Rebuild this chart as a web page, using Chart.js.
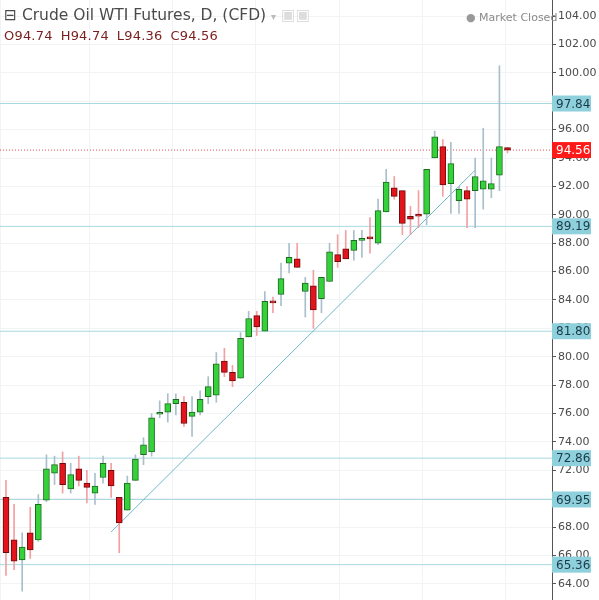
<!DOCTYPE html>
<html>
<head>
<meta charset="utf-8">
<script src="https://cdn.jsdelivr.net/npm/chart.js@4"></script>
<style>
  body { margin: 0; background: #fff; }
  #wrap { position: relative; width: 599px; height: 600px; }
  #header { position: absolute; left: 4px; top: 6px; font-family: "DejaVu Sans", sans-serif; pointer-events: none; }
  #title { font-size: 15.5px; color: #4a4a4a; }
  #ohlc { font-size: 13px; color: #7a1e1e; margin-top: 4px; letter-spacing: 0.2px; }
  #ohlc span { margin-right: 8px; }
  #status { position: absolute; left: 466px; top: 11px; font-family: "DejaVu Sans", sans-serif; font-size: 11px; color: #8a8a8a; }
</style>
</head>
<body>
<div id="wrap">
  <canvas id="myChart" width="599" height="600"></canvas>
  <div id="header">
    <div id="title">⊟ Crude Oil WTI Futures, D, (CFD) <span style="color:#bbb;font-size:10px">▾</span> <span style="color:#ddd">▣▣</span></div>
    <div id="ohlc"><span>O94.74</span><span>H94.74</span><span>L94.36</span><span>C94.56</span></div>
  </div>
  <div id="status"><span style="color:#999">●</span> Market Closed</div>
</div>
<script>
const opens = [70.1, 67.1, 65.7, 67.6, 67.1, 69.9, 71.8, 72.5, 70.7, 72.1, 71.1, 70.4, 71.5, 72.0, 70.1, 69.2, 71.3, 73.1, 73.3, 75.95,
  76.1, 76.7, 76.8, 75.8, 76.1, 77.2, 77.3, 79.7, 78.9, 78.5, 81.4, 82.9, 81.8, 83.9, 84.4, 86.6, 86.9, 84.6, 85.0, 84.1,
  85.3, 87.2, 87.6, 87.5, 88.2, 88.4, 88.0, 90.2, 91.9, 91.7, 89.9, 90.05, 90.05, 94.0, 94.8, 92.2, 91.0, 91.7, 91.7, 91.8,
  91.8, 92.8, 94.74];
const highs = [71.3, 69.6, 67.6, 69.4, 70.3, 73.1, 73.0, 73.3, 72.5, 73.0, 72.0, 71.8, 73.0, 72.5, 70.1, 71.6, 73.1, 74.3, 76.0, 76.9,
  77.4, 77.4, 77.2, 77.2, 77.6, 78.6, 80.3, 80.6, 79.4, 81.7, 83.2, 83.2, 84.6, 84.2, 86.6, 88.0, 88.0, 85.6, 86.1, 85.6,
  88.0, 88.6, 88.9, 88.9, 88.9, 89.8, 91.1, 93.2, 92.7, 91.7, 90.6, 91.7, 93.2, 95.9, 95.3, 95.1, 92.0, 92.0, 94.0, 96.1,
  94.0, 100.5, 94.74];
const lows = [64.6, 65.0, 63.5, 65.8, 67.0, 69.8, 71.0, 70.4, 70.4, 70.9, 69.7, 69.6, 71.1, 70.1, 66.2, 69.2, 71.3, 72.4, 73.0, 75.7,
  75.4, 75.9, 75.1, 74.4, 75.9, 76.7, 76.8, 78.6, 77.9, 78.5, 81.4, 81.5, 81.8, 83.1, 83.6, 85.9, 86.3, 82.8, 82.0, 83.1,
  85.3, 86.3, 86.9, 86.8, 87.0, 87.3, 87.9, 90.2, 91.1, 88.6, 88.6, 89.1, 89.3, 94.0, 91.3, 90.1, 90.1, 89.1, 89.1, 90.4,
  91.2, 91.7, 94.36];
const closes = [66.2, 65.6, 66.6, 66.4, 69.6, 72.1, 72.4, 71.0, 71.7, 71.3, 70.8, 70.9, 72.5, 70.9, 68.3, 71.1, 72.8, 73.8, 75.7, 76.05,
  76.7, 77.0, 75.3, 76.1, 77.0, 77.9, 79.5, 78.9, 78.3, 81.3, 82.7, 82.1, 83.9, 83.8, 85.5, 87.0, 86.3, 85.2, 83.3, 85.6,
  87.4, 86.7, 86.9, 88.2, 88.25, 88.3, 90.3, 92.3, 91.3, 89.4, 89.7, 89.9, 93.2, 95.5, 92.1, 93.6, 91.8, 91.1, 92.7, 92.4,
  92.2, 94.8, 94.56];

const levels = [97.84, 89.19, 81.80, 72.86, 69.95, 65.36];
const lastPrice = 94.56;
const trendStart = { x: 12.98, y: 67.65 };
const trendEnd = { x: 58.0, y: 93.15 };

const xMin = -0.74, xMax = 67.5;
const yMin = 62.87, yMax = 105.13;

const isUp = opens.map((o, i) => closes[i] >= o);
const bodyData = opens.map((o, i) => ({ x: i, y: [o, closes[i]] }));
const wickData = opens.map((o, i) => ({ x: i, y: [lows[i], highs[i]] }));

function hline(value, color, dash) {
  return {
    type: "line",
    data: [{ x: xMin, y: value }, { x: xMax, y: value }],
    borderColor: color,
    borderWidth: 1,
    borderDash: dash || [],
    pointRadius: 0,
    order: 5,
  };
}

const datasets = [
  {
    type: "bar",
    data: bodyData,
    backgroundColor: isUp.map((u) => (u ? "#34d13a" : "#e3141b")),
    borderColor: isUp.map((u) => (u ? "#1c6b1f" : "#6e0a0a")),
    borderWidth: 1,
    borderSkipped: false,
    barThickness: 6,
    minBarLength: 2,
    grouped: false,
    order: 1,
  },
  {
    type: "bar",
    data: wickData,
    backgroundColor: isUp.map((u) => (u ? "#a9bfcc" : "#f2a0a4")),
    barThickness: 1,
    grouped: false,
    order: 2,
  },
  ...levels.map((v) => hline(v, "#a8d8e0")),
  hline(lastPrice, "#ef4a4a", [1, 2]),
  {
    type: "line",
    data: [trendStart, trendEnd],
    borderColor: "#6fb8c4",
    borderWidth: 1,
    pointRadius: 0,
    order: 4,
  },
];

const labelPlugin = {
  id: "priceLabels",
  afterDraw(chart) {
    const c = chart.ctx;
    const y = chart.scales.y;
    const left = chart.chartArea.right;
    c.save();
    c.font = "12px 'DejaVu Sans', sans-serif";
    c.textBaseline = "middle";
    levels.forEach((v) => {
      const py = y.getPixelForValue(v);
      c.fillStyle = "#8fd0dd";
      c.fillRect(left, py - 8, 39, 16);
      c.fillStyle = "#1b3a47";
      c.fillText(v.toFixed(2), left + 4, py + 1);
    });
    const py = y.getPixelForValue(lastPrice);
    c.fillStyle = "#ff1a1a";
    c.fillRect(left, py - 8, 39, 16);
    c.fillStyle = "#ffffff";
    c.fillText(lastPrice.toFixed(2), left + 4, py + 1);
    c.restore();
  },
};

const config = {
  data: { datasets },
  options: {
    responsive: false,
    animation: false,
    layout: { padding: 0 },
    plugins: { legend: { display: false }, tooltip: { enabled: false } },
    scales: {
      x: {
        type: "linear",
        offset: false,
        min: xMin,
        max: xMax,
        ticks: { display: false, stepSize: 10.3 },
        grid: { color: "#f1f4f6", drawTicks: false, offset: false },
        border: { display: false },
        afterFit: (scale) => {
          scale.height = 0;
          scale.paddingLeft = 0;
          scale.paddingRight = 0;
        },
      },
      y: {
        position: "right",
        min: yMin,
        max: yMax,
        afterBuildTicks: (scale) => {
          const t = [];
          for (let v = 64; v <= 104; v += 2) t.push({ value: v });
          scale.ticks = t;
        },
        ticks: {
          callback: (v) => v.toFixed(2),
          color: "#4a4a4a",
          font: { family: "DejaVu Sans", size: 11 },
          padding: 2,
        },
        grid: { color: "#f1f4f6", tickColor: "#555", tickLength: 4 },
        border: { color: "#555" },
        afterFit: (scale) => {
          scale.width = 47;
          scale.paddingTop = 0;
          scale.paddingBottom = 0;
        },
      },
    },
  },
  plugins: [labelPlugin],
};

const myChart = new Chart(document.getElementById("myChart"), config);
</script>
</body>
</html>
